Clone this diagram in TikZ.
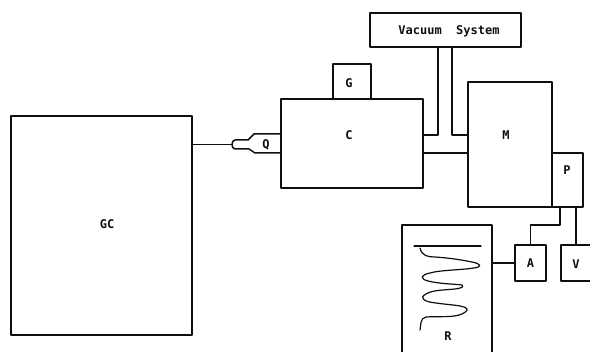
\documentclass[tikz,border=0pt]{standalone}
\usepackage{fontspec}
\setmonofont{DejaVu Sans Mono}
\begin{document}
\begin{tikzpicture}[x=1pt,y=-1pt,
  line width=1.5pt, line join=round, line cap=round,
  box/.style={draw=ink,fill=none,inner sep=0pt,outer sep=0pt,font=\labelfont,text=ink},
  lbl/.style={inner sep=0pt,font=\labelfont,text=ink},
  thin wire/.style={line width=1.2pt}]
\def\labelfont{\ttfamily\bfseries\fontsize{12}{13}\selectfont}
\definecolor{ink}{gray}{0.06}
\useasboundingbox (0,0) rectangle (590,352);
\clip (0,0) rectangle (590,352);
\tikzset{every path/.append style={draw=ink}}
% boxes
\node[box,minimum width=181pt,minimum height=219pt] (gc) at (101.5,225.5) {};
\node[lbl] at (107,224) (gclabel) {GC};
\node[box,minimum width=142pt,minimum height=89pt] (c) at (352,143.5) {};
\node[lbl] at (349,135) (clabel) {C};
\node[box,minimum width=38pt,minimum height=35pt] (g) at (352,81.5) {};
\node[lbl] at (349,83) (glabel) {G};
\node[box,minimum width=151pt,minimum height=34pt] (vac) at (445.5,30) {};
\node[lbl] at (449,31) (vaclabel) {Vacuum\ \ System};
\node[box,minimum width=84pt,minimum height=125pt] (m) at (510,144.5) {};
\node[lbl] at (506,135) (mlabel) {M};
\node[box,minimum width=31pt,minimum height=54pt] (p) at (567.5,180) {};
\node[lbl] at (567,170) (plabel) {P};
\node[box,minimum width=31pt,minimum height=36pt] (a) at (530.5,263) {A};
\node[box,minimum width=40pt,minimum height=36pt] (v) at (581,263) {};
\node[lbl] at (576,264) (vlabel) {V};
% recorder, running off the bottom edge
\node[box,minimum width=90pt,minimum height=135pt] (r) at (447,292.5) {};
\node[lbl] at (448,336) (rlabel) {R};
\coordinate (baseL) at (414,246);
\coordinate (baseR) at (481,246);
\draw[thin wire] (baseL) -- (baseR);
\draw[thin wire] (420,248) .. controls (422,256) and (428,257) .. (435,257)
  .. controls (450,258) and (462,260) .. (472,262)
  .. controls (482,264) and (482,267) .. (474,268)
  .. controls (462,270) and (440,270) .. (430,273)
  .. controls (420,275) and (420,279) .. (428,281)
  .. controls (440,284) and (455,284) .. (462,285)
  .. controls (464,287) and (462,288) .. (455,289)
  .. controls (445,290) and (432,290) .. (426,294)
  .. controls (418,298) and (425,302) .. (436,303)
  .. controls (450,305) and (458,305) .. (464,307)
  .. controls (469,309) and (468,311) .. (462,314)
  .. controls (452,318) and (440,316) .. (426,317)
  .. controls (420,318) and (421,325) .. (420,330);
% capillary Q
\node[lbl] at (266,144.5) (qlabel) {Q};
\coordinate (qtip) at (232,144.5);
\coordinate (qtop) at (281,134);
\coordinate (qbot) at (281,153);
\draw[thin wire] (gc.east |- qtip) -- (qtip);
\draw (qtop -| c.west) -- (254,134) -- (248,140) -- (235,140)
  .. controls (231,140) and (231,149) .. (235,149)
  -- (249,149) -- (255,153) -- (qbot -| c.west);
% vacuum legs and pipe
\coordinate (legL) at (438,135);
\coordinate (legR) at (452,135);
\coordinate (pipe) at (445,153);
\draw (c.east |- legL) -- (legL) -- (legL |- vac.south);
\draw (m.west |- legR) -- (legR) -- (legR |- vac.south);
\draw (c.east |- pipe) -- (m.west |- pipe);
% electrical leads
\coordinate (lead) at (560,225);
\draw (lead |- p.south) -- (lead) -- (lead -| a.center) -- (a.north);
\coordinate (vlead) at (576,225);
\draw (vlead |- p.south) -- (vlead |- v.north);
\draw[thin wire] (r.east |- a.west) -- (a.west);
\end{tikzpicture}
\end{document}
